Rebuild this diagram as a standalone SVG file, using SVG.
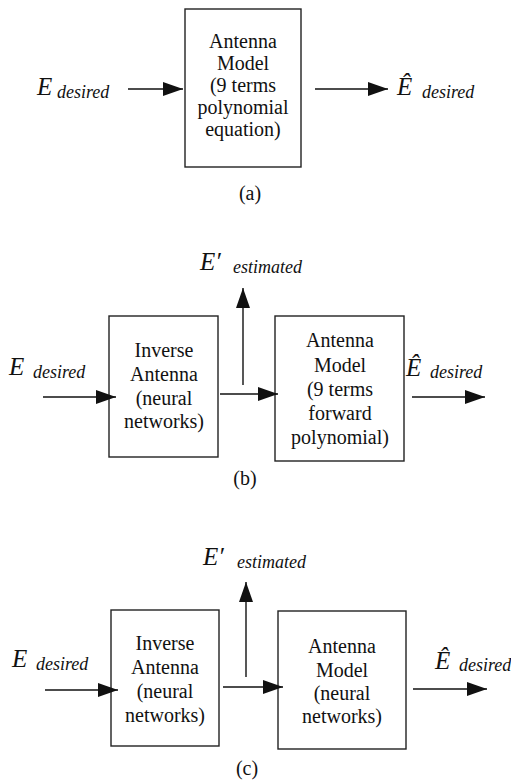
<svg xmlns="http://www.w3.org/2000/svg" width="511" height="780" viewBox="0 0 511 780">
<style>
.box{fill:#fff;stroke:#222;stroke-width:1.4}
.ln{stroke:#111;stroke-width:1.4;fill:none;marker-end:url(#ah)}
text{font-family:'Liberation Serif','DejaVu Serif',serif;fill:#111}
.t{font-size:20px;text-anchor:middle}
.E{font-style:italic;font-size:25px}
.s{font-style:italic;font-size:18px}
.cap{font-size:20px;text-anchor:middle}
</style>
<defs>
<marker id="ah" markerUnits="userSpaceOnUse" markerWidth="20" markerHeight="14" refX="20" refY="7" orient="auto">
<path d="M0,0 L20,7 L0,14 z" fill="#111"/>
</marker>
</defs>

<!-- (a) -->
<g id="a_model">
<rect class="box" x="185" y="9" width="116" height="158"/>
<text class="t" x="243" y="48">Antenna</text>
<text class="t" x="243" y="70">Model</text>
<text class="t" x="243" y="92">(9  terms</text>
<text class="t" x="243" y="114">polynomial</text>
<text class="t" x="243" y="136">equation)</text>
</g>
<g id="a_in"><text class="E" x="37" y="95">E</text><text class="s" x="57" y="98">desired</text></g>
<g id="a_out"><text class="E" x="397" y="95">Ê</text><text class="s" x="422" y="98">desired</text></g>
<text class="cap" x="250" y="200">(a)</text>

<!-- (b) -->
<g id="b_inv">
<rect class="box" x="109" y="316" width="109" height="141"/>
<text class="t" x="164" y="357">Inverse</text>
<text class="t" x="164" y="381">Antenna</text>
<text class="t" x="164" y="405">(neural</text>
<text class="t" x="164" y="428">networks)</text>
</g>
<g id="b_model">
<rect class="box" x="275" y="316" width="129" height="145"/>
<text class="t" x="340" y="347">Antenna</text>
<text class="t" x="340" y="372">Model</text>
<text class="t" x="340" y="396">(9  terms</text>
<text class="t" x="340" y="420">forward</text>
<text class="t" x="340" y="444">polynomial)</text>
</g>
<g id="b_in"><text class="E" x="9" y="375">E</text><text class="s" x="33" y="378">desired</text></g>
<g id="b_est"><text class="E" x="200" y="270">E′</text><text class="s" x="233" y="273">estimated</text></g>
<g id="b_out"><text class="E" x="406" y="376">Ê</text><text class="s" x="430" y="378">desired</text></g>
<text class="cap" x="245" y="485">(b)</text>

<!-- (c) -->
<g id="c_inv">
<rect class="box" x="111" y="610" width="108" height="136"/>
<text class="t" x="165" y="650">Inverse</text>
<text class="t" x="165" y="674">Antenna</text>
<text class="t" x="165" y="698">(neural</text>
<text class="t" x="165" y="722">networks)</text>
</g>
<g id="c_model">
<rect class="box" x="278" y="611" width="128" height="138"/>
<text class="t" x="342" y="653">Antenna</text>
<text class="t" x="342" y="677">Model</text>
<text class="t" x="342" y="700">(neural</text>
<text class="t" x="342" y="723">networks)</text>
</g>
<g id="c_in"><text class="E" x="12" y="667">E</text><text class="s" x="36" y="670">desired</text></g>
<g id="c_est"><text class="E" x="203" y="565">E′</text><text class="s" x="237" y="568">estimated</text></g>
<g id="c_out"><text class="E" x="435" y="669">Ê</text><text class="s" x="459" y="671">desired</text></g>
<text class="cap" x="247" y="775">(c)</text>

<g id="connectors">
<line class="ln" x1="128" y1="89" x2="183" y2="89"/>
<line class="ln" x1="315" y1="89" x2="388" y2="89"/>
<line class="ln" x1="43" y1="397" x2="116" y2="397"/>
<line class="ln" x1="220" y1="394" x2="278" y2="394"/>
<line class="ln" x1="243" y1="385" x2="243" y2="288"/>
<line class="ln" x1="412" y1="397" x2="485" y2="397"/>
<line class="ln" x1="45" y1="690" x2="118" y2="690"/>
<line class="ln" x1="223" y1="687" x2="283" y2="687"/>
<line class="ln" x1="246" y1="677" x2="246" y2="582"/>
<line class="ln" x1="413" y1="689" x2="487" y2="689"/>
</g>
</svg>
